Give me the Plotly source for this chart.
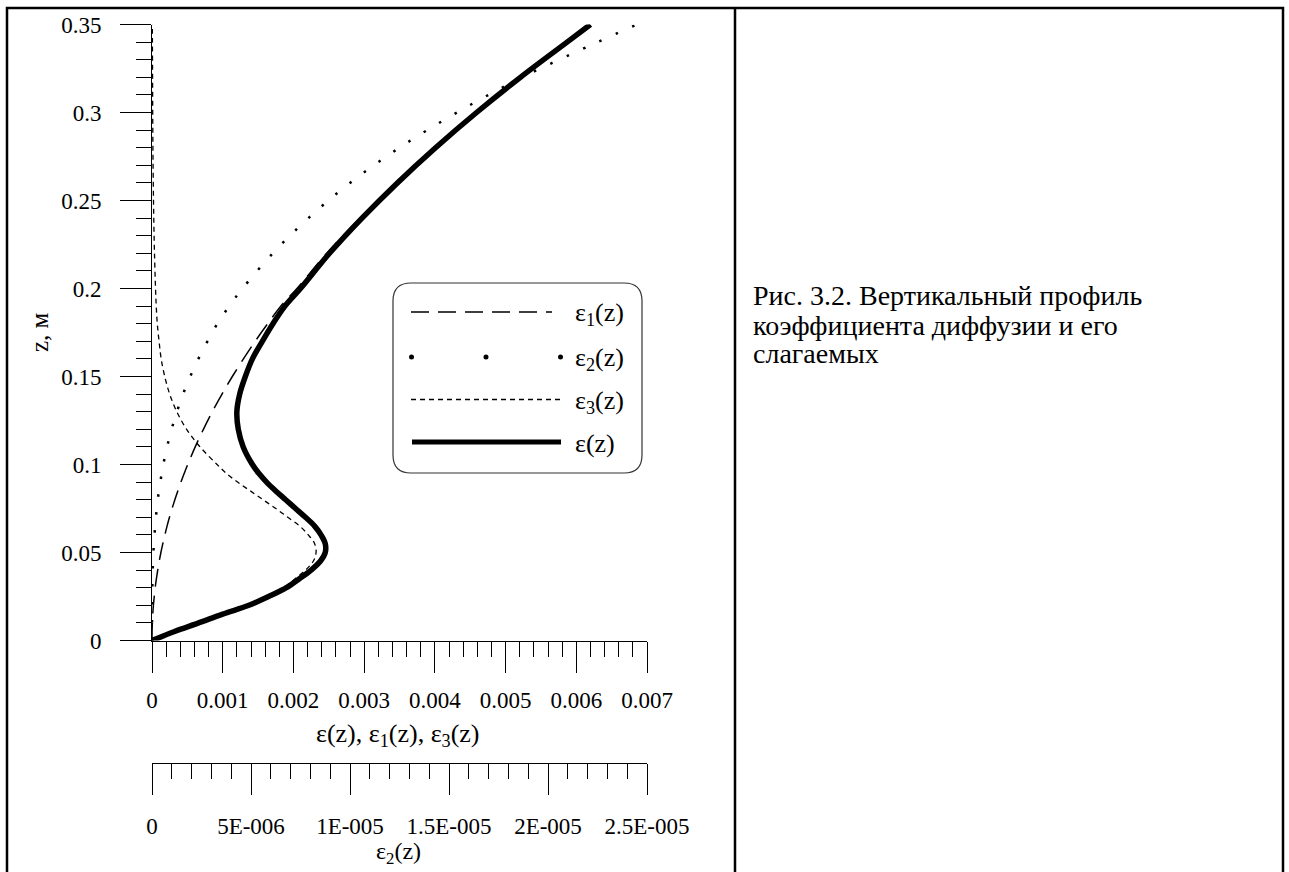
import plotly.graph_objects as go

# Height above the bottom, m
z = [0, 0.005, 0.01, 0.015, 0.02, 0.025, 0.03, 0.035, 0.04, 0.045, 0.05,
     0.055, 0.06, 0.065, 0.07, 0.075, 0.08, 0.085, 0.09, 0.095, 0.1,
     0.11, 0.12, 0.13, 0.14, 0.15, 0.16, 0.17, 0.18, 0.19, 0.2,
     0.22, 0.24, 0.26, 0.28, 0.30, 0.32, 0.34, 0.35]

# eps1(z), units of 1e-3
eps1_e3 = [0, 0.001, 0.005, 0.011, 0.02, 0.032, 0.045, 0.062, 0.081, 0.102, 0.126,
           0.153, 0.182, 0.213, 0.247, 0.284, 0.323, 0.365, 0.409, 0.456, 0.505,
           0.611, 0.727, 0.853, 0.99, 1.136, 1.293, 1.459, 1.636, 1.823, 2.05,
           2.47, 2.94, 3.45, 4.00, 4.58, 5.20, 5.86, 6.19]

# eps2(z), units of 1e-5 (own axis)
eps2_e5 = [0, 0, 0.0001, 0.0002, 0.0005, 0.0009, 0.0016, 0.0025, 0.0037, 0.0052, 0.0071,
           0.0095, 0.0125, 0.016, 0.020, 0.024, 0.029, 0.035, 0.042, 0.049, 0.057,
           0.076, 0.099, 0.126, 0.157, 0.193, 0.234, 0.28, 0.33, 0.39, 0.457,
           0.61, 0.79, 1.00, 1.25, 1.54, 1.87, 2.25, 2.45]

# eps3(z), units of 1e-3
eps3_e3 = [0, 0.31, 0.65, 0.99, 1.35, 1.62, 1.86, 2.02, 2.17, 2.28, 2.32,
           2.30, 2.21, 2.09, 1.92, 1.75, 1.57, 1.39, 1.21, 1.05, 0.92,
           0.68, 0.49, 0.35, 0.25, 0.18, 0.13, 0.10, 0.075, 0.06, 0.05,
           0.035, 0.025, 0.018, 0.013, 0.01, 0.008, 0.006, 0.005]

# eps(z), total diffusion coefficient, units of 1e-3
eps_e3 = [0, 0.31, 0.66, 1.00, 1.37, 1.65, 1.90, 2.08, 2.25, 2.38, 2.45,
          2.45, 2.39, 2.30, 2.17, 2.03, 1.89, 1.75, 1.62, 1.51, 1.42,
          1.29, 1.22, 1.20, 1.24, 1.32, 1.42, 1.56, 1.71, 1.88, 2.10,
          2.51, 2.97, 3.47, 4.01, 4.59, 5.21, 5.87, 6.20]

x_ticks = [0, 0.001, 0.002, 0.003, 0.004, 0.005, 0.006, 0.007]
x_ticktext = ["0", "0.001", "0.002", "0.003", "0.004", "0.005", "0.006", "0.007"]
x2_ticks = [0, 5e-6, 1e-5, 1.5e-5, 2e-5, 2.5e-5]
x2_ticktext = ["0", "5E-006", "1E-005", "1.5E-005", "2E-005", "2.5E-005"]
y_ticks = [0, 0.05, 0.1, 0.15, 0.2, 0.25, 0.3, 0.35]
y_ticktext = ["0", "0.05", "0.1", "0.15", "0.2", "0.25", "0.3", "0.35"]

legend_labels = ["ε<sub>1</sub>(z)", "ε<sub>2</sub>(z)", "ε<sub>3</sub>(z)", "ε(z)"]
caption_lines = ["Рис. 3.2. Вертикальный профиль",
                 "коэффициента диффузии и его",
                 "слагаемых"]

W, H = 1289, 872
FONT = "Liberation Serif"
FS_TICK = 23
FS_LABEL = 26
FS_CAPTION = 28


def px(x):
    return x / W


def py(y):
    return 1 - y / H


# plot frame in pixels
X0, X1 = 152, 647
Y0, Y1 = 24.5, 640.5

eps1 = [v * 1e-3 for v in eps1_e3]
eps2 = [v * 1e-5 for v in eps2_e5]
eps3 = [v * 1e-3 for v in eps3_e3]
eps = [v * 1e-3 for v in eps_e3]

fig = go.Figure()
fig.add_trace(go.Scatter(x=eps1, y=z, mode="lines", line_shape="spline",
                         line=dict(color="black", width=1.5, dash="18px,9px")))
fig.add_trace(go.Scatter(x=eps2, y=z, xaxis="x2", mode="lines", line_shape="spline",
                         line=dict(color="black", width=2.5, dash="2.5px,15.5px")))
fig.add_trace(go.Scatter(x=eps3, y=z, mode="lines", line_shape="spline",
                         line=dict(color="black", width=1.3, dash="5px,4px")))
fig.add_trace(go.Scatter(x=eps, y=z, mode="lines", line_shape="spline",
                         line=dict(color="black", width=5.5)))

axis_common = dict(
    showgrid=False, zeroline=False, showline=True, linecolor="black", linewidth=1,
    ticks="outside", ticklen=31, tickwidth=1, tickcolor="black", automargin=False,
    tickfont=dict(family=FONT, size=FS_TICK, color="black"),
)

fig.update_layout(
    template="none",
    width=W, height=H, margin=dict(l=0, r=0, t=0, b=0, pad=0), autosize=False,
    paper_bgcolor="white", plot_bgcolor="white", showlegend=False,
    font=dict(family=FONT, size=FS_TICK, color="black"),
    xaxis=dict(domain=[px(X0), px(X1)], range=[0, 0.007], anchor="y",
               tickmode="array", tickvals=x_ticks, ticktext=x_ticktext,
               ticklabelstandoff=8,
               minor=dict(tickmode="linear", tick0=0, dtick=0.0002, ticks="outside",
                          ticklen=15, tickcolor="black", showgrid=False),
               **axis_common),
    xaxis2=dict(range=[0, 2.5e-5], overlaying="x", anchor="free", side="bottom",
                position=py(763), tickmode="array", tickvals=x2_ticks, ticktext=x2_ticktext,
                ticklabelstandoff=11,
                minor=dict(tickmode="linear", tick0=0, dtick=1e-6, ticks="outside",
                           ticklen=15, tickcolor="black", showgrid=False),
                **axis_common),
    yaxis=dict(domain=[py(Y1), py(Y0)], range=[0, 0.35], anchor="x",
               tickmode="array", tickvals=y_ticks, ticktext=y_ticktext,
               ticklabelstandoff=14,
               minor=dict(tickmode="linear", tick0=0, dtick=0.01, ticks="outside",
                          ticklen=15, tickcolor="black", showgrid=False),
               **axis_common),
)

shapes = []
# outer frame and divider
shapes.append(dict(type="rect", xref="paper", yref="paper",
                   x0=px(7), x1=px(1283), y0=py(880), y1=py(8),
                   line=dict(color="black", width=2.5)))
shapes.append(dict(type="line", xref="paper", yref="paper",
                   x0=px(735), x1=px(735), y0=py(880), y1=py(8),
                   line=dict(color="black", width=2.5)))

# legend box with rounded corners
bx0, bx1, by0, by1, r = 393, 642, 283, 473, 18
path = (f"M {px(bx0 + r)} {py(by0)} L {px(bx1 - r)} {py(by0)} "
        f"Q {px(bx1)} {py(by0)} {px(bx1)} {py(by0 + r)} L {px(bx1)} {py(by1 - r)} "
        f"Q {px(bx1)} {py(by1)} {px(bx1 - r)} {py(by1)} L {px(bx0 + r)} {py(by1)} "
        f"Q {px(bx0)} {py(by1)} {px(bx0)} {py(by1 - r)} L {px(bx0)} {py(by0 + r)} "
        f"Q {px(bx0)} {py(by0)} {px(bx0 + r)} {py(by0)} Z")
shapes.append(dict(type="path", xref="paper", yref="paper", path=path,
                   line=dict(color="#333333", width=1.2), fillcolor="white", layer="above"))

leg_y = [312, 357, 399.5, 442]
# legend samples: long dash, dots, short dash, thick solid
shapes.append(dict(type="line", xref="paper", yref="paper", layer="above",
                   x0=px(411), x1=px(552), y0=py(leg_y[0]), y1=py(leg_y[0]),
                   line=dict(color="black", width=1.5, dash="18px,9px")))
for cx in (411.5, 486, 560.5):
    shapes.append(dict(type="circle", xref="paper", yref="paper", layer="above",
                       x0=px(cx - 2.5), x1=px(cx + 2.5),
                       y0=py(leg_y[1] + 2.5), y1=py(leg_y[1] - 2.5),
                       fillcolor="black", line=dict(width=0)))
shapes.append(dict(type="line", xref="paper", yref="paper", layer="above",
                   x0=px(411), x1=px(562), y0=py(leg_y[2]), y1=py(leg_y[2]),
                   line=dict(color="black", width=1.3, dash="5px,4px")))
shapes.append(dict(type="line", xref="paper", yref="paper", layer="above",
                   x0=px(412), x1=px(561), y0=py(leg_y[3]), y1=py(leg_y[3]),
                   line=dict(color="black", width=5)))

annotations = []
for yy, lab in zip(leg_y, legend_labels):
    annotations.append(dict(xref="paper", yref="paper", x=px(573), y=py(yy + 2),
                            xanchor="left", yanchor="middle", showarrow=False,
                            text=lab, font=dict(family=FONT, size=FS_LABEL, color="black")))

# axis titles
annotations.append(dict(xref="paper", yref="paper", x=px(398), y=py(735),
                        xanchor="center", yanchor="middle", showarrow=False,
                        text="ε(z), ε<sub>1</sub>(z), ε<sub>3</sub>(z)",
                        font=dict(family=FONT, size=FS_LABEL, color="black")))
annotations.append(dict(xref="paper", yref="paper", x=px(398), y=py(853),
                        xanchor="center", yanchor="middle", showarrow=False,
                        text="ε<sub>2</sub>(z)",
                        font=dict(family=FONT, size=FS_LABEL - 2, color="black")))
annotations.append(dict(xref="paper", yref="paper", x=px(39), y=py(332),
                        xanchor="center", yanchor="middle", showarrow=False,
                        textangle=-90, text="z, м",
                        font=dict(family=FONT, size=FS_LABEL - 1, color="black")))
# caption, one annotation per line
for i, line in enumerate(caption_lines):
    annotations.append(dict(xref="paper", yref="paper", x=px(751), y=py(296 + 29 * i),
                            xanchor="left", yanchor="middle", align="left", showarrow=False,
                            text=line, font=dict(family=FONT, size=FS_CAPTION, color="black")))

fig.update_layout(shapes=shapes, annotations=annotations)
fig.write_html("out.html")
